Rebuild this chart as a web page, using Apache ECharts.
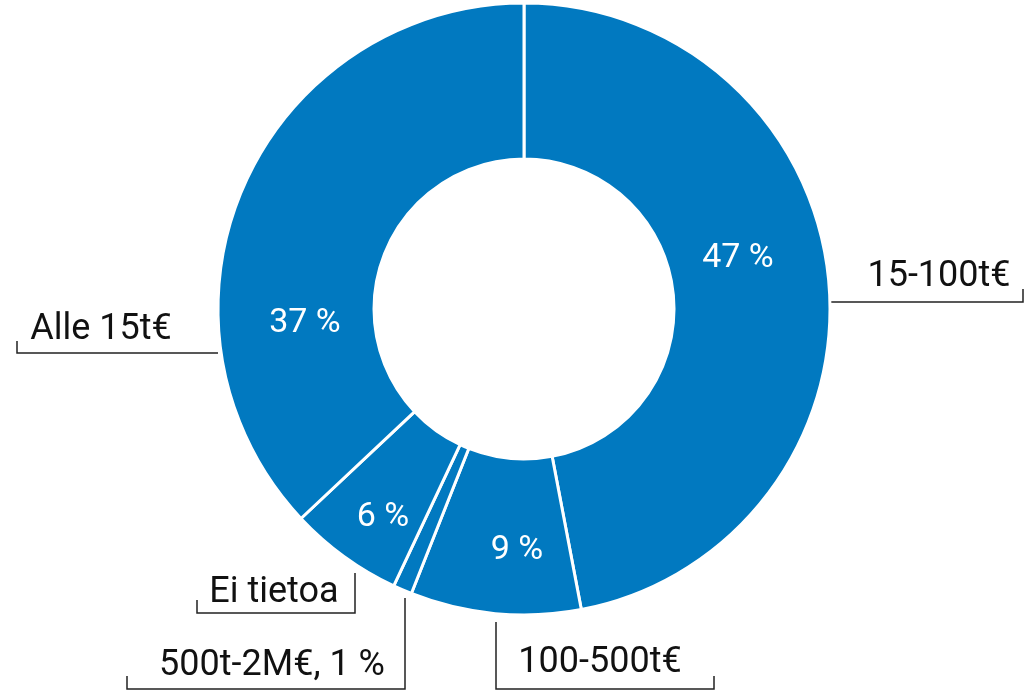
<!DOCTYPE html>
<html>
<head>
<meta charset="utf-8">
<script src="https://cdn.jsdelivr.net/npm/echarts@6/dist/echarts.min.js"></script>
<style>
  html, body { margin: 0; padding: 0; background: #fff; }
  #chart { width: 1035px; height: 690px; }
</style>
</head>
<body>
<div id="chart"></div>
<script>
// 数据
const categories = ['15-100t€', '100-500t€', '500t-2M€', 'Ei tietoa', 'Alle 15t€'];
const shares = [47, 9, 1, 6, 37];

const chart = echarts.init(document.getElementById('chart'));

const pieData = categories.map((name, i) => ({ name: name, value: shares[i] }));

// 内部百分比标签位置
const innerPos = [[738, 258], [517, 550], null, [383, 517], [305, 323]];
// 外部标签位置与引导线
const outerPos = [
  { x: 939, y: 277, line: [[830, 302], [1023, 302], [1023, 289]] },
  { x: 600, y: 663, line: [[496, 622], [496, 689], [714, 689], [714, 676]] },
  { x: 272, y: 666, line: [[405, 598], [405, 689], [127, 689], [127, 676]] },
  { x: 274, y: 593, line: [[355, 573], [355, 613], [197, 613], [197, 600]] },
  { x: 101, y: 330, line: [[218, 353], [17, 353], [17, 341]] }
];

const baseSeries = {
  type: 'pie',
  center: [524, 309],
  radius: [150, 306],
  startAngle: 90,
  clockwise: true,
  silent: true
};

const option = {
  animation: false,
  series: [
    Object.assign({}, baseSeries, {
      itemStyle: {
        color: '#0179C0',
        borderColor: '#fff',
        borderWidth: 3
      },
      label: {
        position: 'inside',
        color: '#fff',
        fontFamily: 'Roboto',
        fontSize: 34,
        formatter: (p) => (p.value < 2 ? '' : p.percent + ' %')
      },
      labelLine: { show: false },
      labelLayout: (p) => {
        const pos = innerPos[p.dataIndex];
        if (!pos) return {};
        return { x: pos[0], y: pos[1], align: 'center', verticalAlign: 'middle' };
      },
      data: pieData
    }),
    Object.assign({}, baseSeries, {
      itemStyle: { color: 'transparent', borderWidth: 0 },
      label: {
        position: 'outside',
        color: '#111',
        fontFamily: 'Roboto',
        fontSize: 36,
        formatter: (p) => (p.value < 2 ? p.name + ', ' + p.percent + ' %' : p.name)
      },
      labelLine: {
        show: true,
        lineStyle: { color: '#222', width: 1.5 }
      },
      labelLayout: (p) => {
        const o = outerPos[p.dataIndex];
        return {
          x: o.x,
          y: o.y,
          align: 'center',
          verticalAlign: 'middle',
          labelLinePoints: o.line
        };
      },
      data: pieData
    })
  ]
};

chart.setOption(option);
</script>
</body>
</html>
